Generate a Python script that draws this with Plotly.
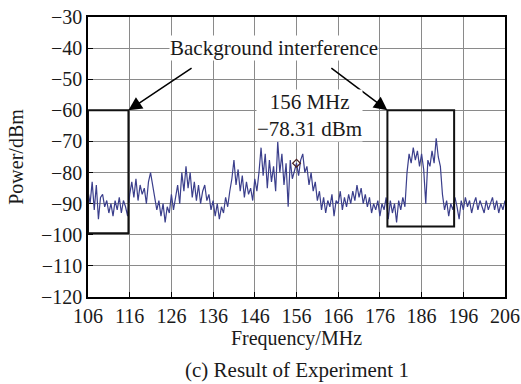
import plotly.graph_objects as go

freq_start = 106.0
freq_step = 0.5
power_dbm = [
    -86, -90, -83, -92, -84, -95, -88, -87, -91, -89, -93, -90, -94, -89, -92, -88, -93, -89, -91, -94, -87,
    -83, -88, -82, -89, -84, -87, -85, -90, -83, -80, -84, -88, -92, -89, -94, -90, -96, -91, -93, -87, -92, -88,
    -84, -90, -80, -86, -78, -85, -80, -88, -83, -89, -84, -90, -86, -84, -89, -87,
    -92, -89, -94, -90, -95, -91, -93, -88, -91, -86,
    -82, -76, -84, -79, -86, -81, -88, -83, -87, -85, -89, -82, -86, -80,
    -72, -81, -74, -85, -76, -83, -78, -86, -70, -80, -74, -84, -77, -91, -76, -82, -79, -77,
    -81, -76, -74, -80, -78, -84, -80, -86, -83, -89, -86, -92,
    -88, -93, -89, -91, -87, -94, -89, -90, -86, -92, -88, -91, -87, -90, -86, -89, -84, -88, -85, -90, -87, -91, -88, -93, -90, -92, -89, -94,
    -90, -92, -88, -95, -89, -93, -90, -96, -89, -92, -88, -91,
    -80, -74, -77, -72, -76, -73, -78, -74, -79, -90, -76, -78, -73, -77, -69, -75, -78, -87,
    -92, -89, -94, -90, -92, -88, -91, -95, -89, -92, -88, -91, -89, -93, -90, -88, -92, -89, -91, -93, -89, -92, -90, -88, -92, -89, -93, -90, -92, -89,
]
freq_mhz = [freq_start + freq_step * i for i in range(len(power_dbm))]

x_ticks = [106, 116, 126, 136, 146, 156, 166, 176, 186, 196, 206]
y_ticks = [-30, -40, -50, -60, -70, -80, -90, -100, -110, -120]

marker_freq = [156]
marker_power = [-77]

left_box = dict(x0=106, x1=115.7, y0=-99.5, y1=-60)
right_box = dict(x0=177.8, x1=193.8, y0=-97.3, y1=-60)

FONT = "Liberation Serif, Times New Roman, serif"
TXT = "#1a1a1a"

fig = go.Figure()
fig.add_trace(go.Scatter(x=freq_mhz, y=power_dbm, mode="lines",
                         line=dict(color="#3b3f8c", width=1.2), showlegend=False))
fig.add_trace(go.Scatter(x=marker_freq, y=marker_power, mode="markers",
                         marker=dict(symbol="diamond-open", size=6, color="#4a2020",
                                     line=dict(width=1.2)), showlegend=False))

for b in (left_box, right_box):
    fig.add_shape(type="rect", xref="x", yref="y", line=dict(color="#111", width=2),
                  fillcolor="rgba(0,0,0,0)", **b)

# arrows
fig.add_annotation(x=left_box["x1"], y=left_box["y1"], ax=131.2, ay=-46.1,
                   xref="x", yref="y", axref="x", ayref="y", text="",
                   showarrow=True, arrowhead=2, arrowsize=1.8, arrowwidth=1.5, arrowcolor="black")
fig.add_annotation(x=right_box["x0"], y=right_box["y1"], ax=164.0, ay=-46.1,
                   xref="x", yref="y", axref="x", ayref="y", text="",
                   showarrow=True, arrowhead=2, arrowsize=1.8, arrowwidth=1.5, arrowcolor="black")

fig.add_annotation(x=150.5, y=-40, xref="x", yref="y", text="Background interference",
                   showarrow=False, bgcolor="white", font=dict(family=FONT, size=21, color=TXT),
                   borderpad=0)
fig.add_annotation(x=159.2, y=-61.5, xref="x", yref="y", text="156 MHz<br>−78.31 dBm",
                   showarrow=False, bgcolor="white", font=dict(family=FONT, size=21, color=TXT),
                   borderpad=0, align="center")

fig.add_annotation(x=0.5, xref="paper", y=0, yref="paper", yanchor="middle",
                   text="(c) Result of Experiment 1", showarrow=False,
                   font=dict(family=FONT, size=21, color=TXT))

axis_common = dict(showgrid=True, gridcolor="#8a8a8a", gridwidth=1, zeroline=False,
                   showline=True, linecolor="black", linewidth=1.5, mirror=True,
                   ticks="inside", ticklen=5, tickcolor="black", automargin=False,
                   tickfont=dict(family=FONT, size=20, color=TXT))

fig.update_xaxes(range=[106, 206], tickvals=x_ticks, ticktext=[str(t) for t in x_ticks],
                 title=dict(text="Frequency/MHz", font=dict(family=FONT, size=20, color=TXT), standoff=4),
                 **axis_common)
fig.update_yaxes(range=[-120, -30], tickvals=y_ticks,
                 title=dict(text="Power/dBm", font=dict(family=FONT, size=20, color=TXT), standoff=12),
                 **axis_common)

fig.update_layout(width=521, height=384, margin=dict(l=88, r=16, t=17, b=87),
                  plot_bgcolor="white", paper_bgcolor="white",
                  font=dict(family=FONT))

# caption position in paper coords: pixel y=370 -> paper fraction
plot_h = 384 - 17 - 87
fig.layout.annotations[-1].y = (384 - 87 - 370) / plot_h

fig.write_html("out.html")
